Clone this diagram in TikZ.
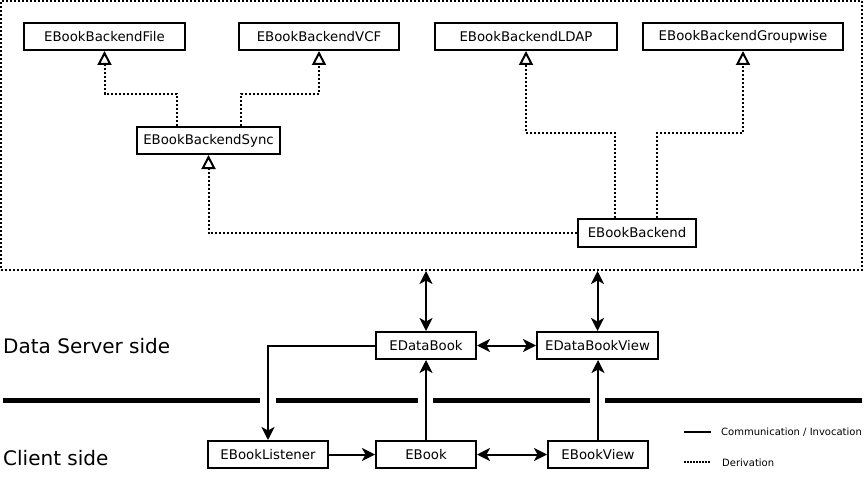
\documentclass[tikz,border=0pt]{standalone}
\usepackage{fontspec}
\setmainfont{DejaVu Sans}
\usetikzlibrary{arrows.meta}
\begin{document}
\begin{tikzpicture}[x=1pt,y=-1pt,
  box/.style={draw, line width=2pt, minimum height=27pt, inner sep=0pt,
    font=\fontsize{13.3}{15}\selectfont},
  deriv/.style={line width=2pt, dash pattern=on 2pt off 2pt,
    -{Triangle[open,length=14pt,width=14pt,line width=2pt]}},
  frame/.style={draw, line width=2pt, dash pattern=on 2pt off 2pt, inner sep=0pt},
  comm/.style={line width=2pt},
  tip/.tip={Stealth[length=13pt,width=13pt,inset=3.5pt]},
  one/.style={comm,-tip},
  two/.style={comm,tip-tip},
  divider/.style={line width=5pt},
  side/.style={font=\fontsize{20}{24}\selectfont, anchor=base west, inner sep=0pt},
  legend/.style={font=\fontsize{10}{12}\selectfont, anchor=west, inner sep=0pt}]
\useasboundingbox (0,0) rectangle (866,489);

% outer server frame
\node[frame, minimum width=861pt, minimum height=269pt] (server) at (431.5,135.5) {};

% backend classes
\node[box, minimum width=161pt] (file) at (104.5,36.5) {EBookBackendFile};
\node[box, minimum width=160pt] (vcf) at (319,36.5) {EBookBackendVCF};
\node[box, minimum width=182pt] (ldap) at (526,36.5) {EBookBackendLDAP};
\node[box, minimum width=200pt] (gw) at (743,36.5) {EBookBackendGroupwise};
\node[box, minimum width=143pt] (sync) at (208.5,140.5) {EBookBackendSync};
\node[box, minimum width=118pt, minimum height=28pt] (backend) at (637,233) {EBookBackend};

% derivations
\draw[deriv] ([xshift=-31.5pt]sync.north) -- ++(0,-32) -| (file.south);
\draw[deriv] ([xshift=32.5pt]sync.north) -- ++(0,-32) -| (vcf.south);
\draw[deriv] ([xshift=-22pt]backend.north) -- ++(0,-85) -| (ldap.south);
\draw[deriv] ([xshift=20pt]backend.north) -- ++(0,-85) -| (gw.south);
\draw[deriv] (backend.west) -| (sync.south);

% server side
\node[box, minimum width=100pt] (edb) at (426,345.5) {EDataBook};
\node[box, minimum width=121pt] (edbv) at (597.5,345.5) {EDataBookView};

% client side
\node[box, minimum width=120pt] (lst) at (268,454.5) {EBookListener};
\node[box, minimum width=100pt] (ebook) at (426,454.5) {EBook};
\node[box, minimum width=100pt] (ebv) at (598,454.5) {EBookView};

% side labels
\node[side] (dslabel) at (3,353) {Data Server side};
\node[side] (cslabel) at (3,465) {Client side};

% divider
\coordinate (d1) at (3,400);
\coordinate (d2) at (260,400);
\coordinate (d3) at (276,400);
\coordinate (d4) at (418,400);
\coordinate (d5) at (433,400);
\coordinate (d6) at (590,400);
\coordinate (d7) at (605,400);
\coordinate (d8) at (862,400);
\draw[divider] (d1) -- (d2) (d3) -- (d4) (d5) -- (d6) (d7) -- (d8);

% communication
\draw[two] (server.south -| edb.north) -- (edb.north);
\draw[two] (server.south -| edbv.north) -- (edbv.north);
\draw[two] (edb) -- (edbv);
\draw[one] (edb.west) -| (lst.north);
\draw[one] (lst) -- (ebook);
\draw[one] (ebook.north) -- (edb.south);
\draw[two] (ebook) -- (ebv);
\draw[one] (ebv.north) -- (ebv.north |- edbv.south);

% legend
\coordinate (l1a) at (684,432);
\coordinate (l1b) at (711,432);
\coordinate (l2a) at (684,462);
\coordinate (l2b) at (711,462);
\draw[comm] (l1a) -- (l1b);
\draw[line width=1.5pt, dash pattern=on 1.5pt off 1.5pt] (l2a) -- (l2b);
\node[legend] (lt1) at (721,432) {Communication / Invocation};
\node[legend] (lt2) at (722,463) {Derivation};
\end{tikzpicture}
\end{document}
